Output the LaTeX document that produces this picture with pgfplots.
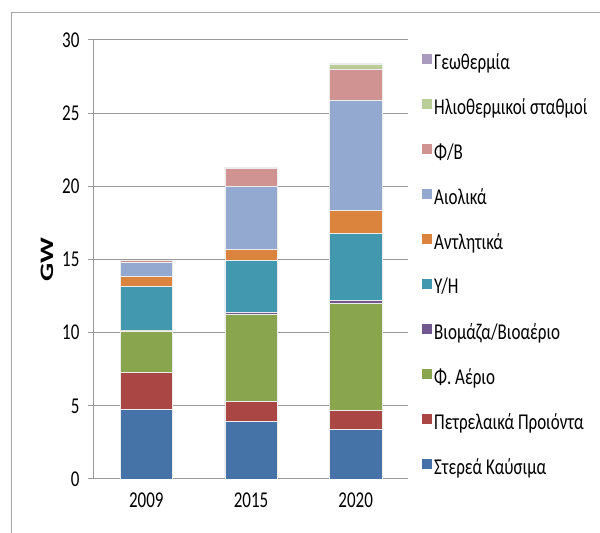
\documentclass[border=0pt]{standalone}
\usepackage{fontspec}
\setmainfont{Carlito}
\usepackage{graphicx}
\usepackage{pgfplots}
\usepackage{pgfplotstable}
\pgfplotsset{compat=1.18}

\definecolor{cSolid}{HTML}{4572A7}
\definecolor{cPet}{HTML}{AA4643}
\definecolor{cGas}{HTML}{89A54E}
\definecolor{cBio}{HTML}{71588F}
\definecolor{cHydro}{HTML}{4198AF}
\definecolor{cPump}{HTML}{DB843D}
\definecolor{cWind}{HTML}{93A9CF}
\definecolor{cPV}{HTML}{D19392}
\definecolor{cST}{HTML}{B9CD96}
\definecolor{cGeo}{HTML}{A99BBD}

% text in the reference is a bit stretched vertically
\newcommand{\vs}[1]{\scalebox{1}[1.33]{#1}}

% GW per year, stacked bottom to top
\pgfplotstableread{
x Solid Pet  Gas  Bio  Hydro Pump Wind PV   ST   Geo
0 4.77  2.52 2.83 0.05 3.00  0.70 0.95 0.10 0.00 0.00
1 3.95  1.37 5.93 0.11 3.60  0.72 4.30 1.26 0.05 0.02
2 3.37  1.34 7.29 0.23 4.54  1.60 7.50 2.15 0.30 0.10
}\datatable

\begin{document}
\begin{tikzpicture}[x=1pt,y=1pt]
\useasboundingbox (0,0) rectangle (600,533);
\draw[gray!70, line width=1pt] (11,0) -- (11,520) -- (600,520);
\begin{axis}[
  at={(94pt,54pt)}, anchor=south west,
  scale only axis, width=314pt, height=439pt,
  ybar stacked, bar width=0.5,
  xmin=-0.5, xmax=2.5, ymin=0, ymax=30,
  xtick={0,1,2}, xticklabels={\vs{2009},\vs{2015},\vs{2020}},
  major x tick style={draw=none},
  extra x ticks={-0.5,0.5,1.5,2.5}, extra x tick labels={},
  extra x tick style={grid=none, major tick length=7pt, tick align=outside,
    tick style={draw=gray!80, line width=1pt}},
  ytick={0,5,...,30},
  yticklabel={\vs{\pgfmathprintnumber{\tick}}},
  tick align=outside, major tick length=6pt,
  y tick style={draw=gray!80, line width=1pt},
  ymajorgrids, grid style={gray!80, line width=1pt},
  axis lines*=left, axis line style={gray!80, line width=1pt},
  /pgf/number format/assume math mode=true,
  tick label style={font=\fontsize{17}{20}\selectfont, black},
  xticklabel style={yshift=-4pt},
  yticklabel style={xshift=-5pt},
  ylabel={\scalebox{1.5}[1]{\textbf{GW}}}, ylabel style={font=\fontsize{19}{22}\selectfont, yshift=2pt},
  legend style={draw=none, fill=none, at={(1.035,0.979)}, anchor=north west,
    font=\fontsize{17}{20}\selectfont, row sep=23.6pt, cells={anchor=west}},
  reverse legend,
  legend image code/.code={\fill[#1, draw=none] (0pt,-2pt) rectangle (10pt,8pt);},
  every axis plot/.append style={draw=white!85!gray, line width=0.6pt},
]
\addplot[fill=cSolid] table[y=Solid] {\datatable};
\addlegendentry{\vs{Στερεά Καύσιμα}}
\addplot[fill=cPet] table[y=Pet] {\datatable};
\addlegendentry{\vs{Πετρελαικά Προιόντα}}
\addplot[fill=cGas] table[y=Gas] {\datatable};
\addlegendentry{\vs{Φ. Αέριο}}
\addplot[fill=cBio] table[y=Bio] {\datatable};
\addlegendentry{\vs{Βιομάζα/Βιοαέριο}}
\addplot[fill=cHydro] table[y=Hydro] {\datatable};
\addlegendentry{\vs{Υ/Η}}
\addplot[fill=cPump] table[y=Pump] {\datatable};
\addlegendentry{\vs{Αντλητικά}}
\addplot[fill=cWind] table[y=Wind] {\datatable};
\addlegendentry{\vs{Αιολικά}}
\addplot[fill=cPV] table[y=PV] {\datatable};
\addlegendentry{\vs{Φ/Β}}
\addplot[fill=cST] table[y=ST] {\datatable};
\addlegendentry{\vs{Ηλιοθερμικοί σταθμοί}}
\addplot[fill=cGeo] table[y=Geo] {\datatable};
\addlegendentry{\vs{Γεωθερμία}}
\end{axis}
\end{tikzpicture}
\end{document}
